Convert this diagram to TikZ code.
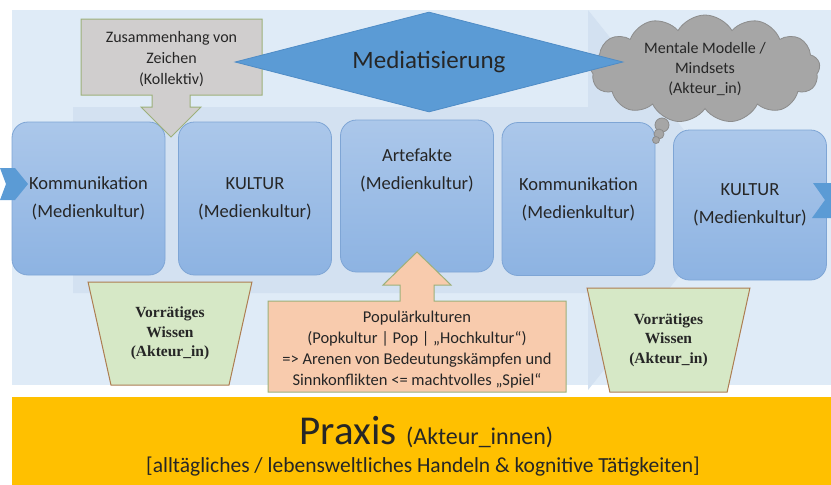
\documentclass[tikz,border=0pt]{standalone}
\usepackage{fontspec}
\setmainfont{Carlito}
\newfontfamily\wissenfont{Liberation Serif}
\usetikzlibrary{shapes.geometric,shapes.symbols,positioning,calc}

\definecolor{bglight}{HTML}{DFEBF7}
\definecolor{bgdark}{HTML}{D3E1F1}
\definecolor{boxtop}{HTML}{ABC7EA}
\definecolor{boxbot}{HTML}{8DB3E2}
\definecolor{boxline}{HTML}{7EA5D5}
\definecolor{mblue}{HTML}{5B9BD5}
\definecolor{mblueline}{HTML}{4F8CC6}
\definecolor{zgray}{HTML}{D0CECE}
\definecolor{olive}{HTML}{9DB07A}
\definecolor{cloudgray}{HTML}{A6A6A6}
\definecolor{cloudline}{HTML}{8C8C8C}
\definecolor{wgreen}{HTML}{D6E8C6}
\definecolor{wbrown}{HTML}{AD7D52}
\definecolor{peach}{HTML}{F8CBAD}
\definecolor{praxisgold}{HTML}{FFC000}
\definecolor{txt}{HTML}{262626}

\begin{document}
\begin{tikzpicture}[x=1pt, y=-1pt,
  medien/.style={rectangle, rounded corners=16pt, draw=boxline, line width=0.8pt,
                 top color=boxtop, bottom color=boxbot,
                 minimum width=153pt, minimum height=153pt, inner sep=0pt,
                 align=center, text=txt, font=\fontsize{18.5}{28}\selectfont},
  medientxt/.style={align=center, text=txt, inner sep=0pt, font=\fontsize{18.5}{28}\selectfont},
  raute/.style={diamond, fill=mblue, draw=mblueline, line width=0.8pt, aspect=3.9,
                minimum width=388pt, minimum height=100pt, inner sep=0pt,
                text=txt, font=\fontsize{25}{30}\selectfont},
  wolke/.style={cloud, cloud puffs=13, cloud puff arc=120, aspect=2.2,
                fill=cloudgray, draw=cloudline, line width=0.8pt,
                minimum width=230pt, minimum height=108pt, inner sep=0pt,
                align=center, text=txt, font=\fontsize{16}{20}\selectfont},
  blase/.style={circle, fill=cloudgray, draw=cloudline, line width=0.8pt, inner sep=0pt},
  wissen/.style={trapezium, shape border rotate=180, trapezium left angle=74,
                 trapezium right angle=74, trapezium stretches=true,
                 minimum width=164pt, minimum height=103pt, inner sep=0pt,
                 fill=wgreen, draw=wbrown, line width=1pt, align=center, text=txt,
                 font=\wissenfont\bfseries\fontsize{15.5}{19.5}\selectfont},
  kleintxt/.style={align=center, text=txt, inner sep=0pt, font=\fontsize{16}{21}\selectfont},
  chevron/.style={fill=mblue}
]
  \useasboundingbox (0,0) rectangle (831,485);

  % Hintergrund
  \fill[bglight] (12,10) rectangle (831,385);
  \fill[bgdark] (73,107) -- (588,107) -- (588,10) -- (740,200) -- (588,390)
                -- (588,293) -- (73,293) -- cycle;

  % Medienkultur-Kette
  \node[medien] (komm1) at (88.5,198.5) {Kommunikation\\(Medienkultur)};
  \node[medien] (kult1) at (255,198.5)  {KULTUR\\(Medienkultur)};
  \node[medien, minimum height=152pt] (arte) at (417,196) {};
  \node[medientxt] (artetxt) at ([yshift=26pt]arte.center) {Artefakte\\(Medienkultur)};
  \node[medien] (komm2) at (578.5,199)  {Kommunikation\\(Medienkultur)};
  \node[medien, minimum height=150pt] (kult2) at (750,205) {KULTUR\\(Medienkultur)};

  \fill[chevron] (0,168) -- (15,168) -- (28,184) -- (15,200) -- (0,200) -- (6,184) -- cycle;
  \fill[chevron] (813,183) -- (831,183) -- (831,218) -- (812,218) -- (825,200) -- cycle;

  % Zeichen (Kollektiv)
  \filldraw[fill=zgray, draw=olive, line width=1pt]
    (81,19) -- (262,19) -- (262,95) -- (190,95) -- (190,107) -- (201,107)
    -- (171,137) -- (141,107) -- (152,107) -- (152,95) -- (81,95) -- cycle;
  \node[kleintxt] (zeichen) at (171.5,59) {Zusammenhang von\\Zeichen\\(Kollektiv)};

  % Mentale Modelle
  \node[wolke] (mental) at (705,69) {Mentale Modelle /\\Mindsets\\(Akteur\_in)};
  \node[blase, minimum size=14pt] (bl1) at (662,125) {};
  \node[blase, minimum size=10pt] (bl2) at (659,134) {};
  \node[blase, minimum size=7pt]  (bl3) at (656,140) {};

  \node[raute] (medi) at (429,62) {Mediatisierung};

  % Wissen
  \node[wissen] (wissen1) at (170,333.5) {Vorrätiges\\Wissen\\(Akteur\_in)};
  \node[wissen, minimum width=163pt, minimum height=104pt] (wissen2) at (668.5,340)
    {Vorrätiges\\Wissen\\(Akteur\_in)};

  % Populaerkulturen
  \filldraw[fill=peach, draw=olive, line width=1pt]
    (268,301) -- (400,301) -- (400,285) -- (383,285) -- (417,252) -- (451,285)
    -- (434,285) -- (434,301) -- (566,301) -- (566,392) -- (268,392) -- cycle;
  \node[kleintxt, font=\fontsize{16.5}{21}\selectfont] (pop) at (417,350)
    {Populärkulturen\\(Popkultur | Pop | „Hochkultur“)\\=> Arenen von Bedeutungskämpfen und\\Sinnkonflikten <= machtvolles „Spiel“};

  % Praxis
  \node[fill=praxisgold, minimum width=819pt, minimum height=88pt, inner sep=0pt]
    (band) at (421.5,441) {};
  \node[text=txt, inner sep=0pt] (praxis) at ([xshift=5pt,yshift=9pt]band.center)
    {\fontsize{41}{45}\selectfont Praxis \fontsize{24}{28}\selectfont(Akteur\_innen)};
  \node[text=txt, inner sep=0pt, font=\fontsize{21.5}{26}\selectfont] (handeln)
    at ([xshift=1.5pt,yshift=-26pt]band.center)
    {[alltägliches / lebensweltliches Handeln \& kognitive Tätigkeiten]};
\end{tikzpicture}
\end{document}
